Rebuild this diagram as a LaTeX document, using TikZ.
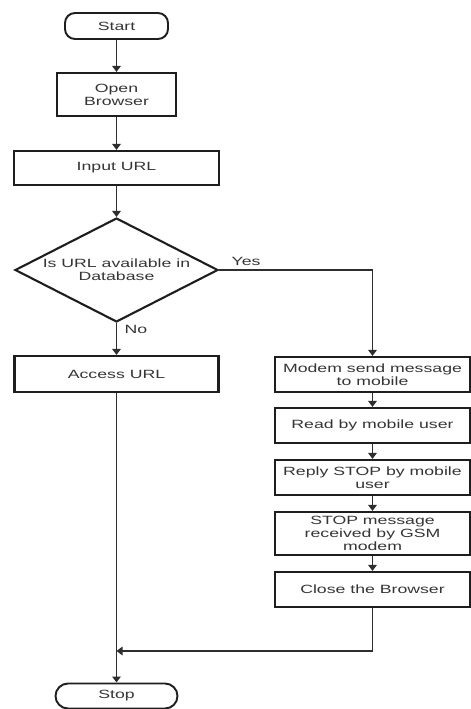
\documentclass[tikz,border=0pt]{standalone}
\usepackage{fontspec}
\setmainfont{Liberation Sans}[FakeStretch=1.48]
\usepackage{tikz}
\usetikzlibrary{positioning, shapes.geometric, arrows.meta}
\definecolor{cline}{HTML}{2E2E2E}
\definecolor{cbox}{HTML}{1E1E1E}
\definecolor{ctext}{HTML}{353535}

\begin{document}
\begin{tikzpicture}[
  font=\fontsize{6.8}{7.3}\selectfont,
  flowbox/.style={
    draw=cbox, fill=white, line width=1.2pt, text=ctext,
    align=center, inner sep=0pt,
    minimum width=#1
  },
  terminal/.style={
    draw=cbox, fill=white, line width=1.1pt, text=ctext,
    rounded corners=0.2cm, inner sep=0pt,
    minimum width=#1
  },
  decision/.style={
    diamond, aspect=2, draw=cbox, line width=1.2pt, text=ctext,
    align=center, inner sep=0pt,
    minimum width=4.06cm, minimum height=2.08cm
  },
  flow/.style={
    draw=cline, line width=1pt,
    -{Triangle[length=0.12cm, width=0.17cm]}
  },
  tag/.style={text=ctext, inner sep=1pt}
]

\useasboundingbox (0, 0) rectangle (9.42, -14.18);

% ============================================================
% LEFT column: start, browser, URL check
% ============================================================
\node[terminal=2.06cm, minimum height=0.52cm] (start)
  at (2.33, -0.52) {Start};

\node[flowbox=2.38cm, minimum height=0.86cm] (open)
  at (2.33, -1.89) {Open\\Browser};

\node[flowbox=4.1cm, minimum height=0.68cm] (input)
  at (2.33, -3.36) {Input URL};

\node[decision] (db)
  at (2.33, -5.40) {Is URL available in\\Database};

\node[flowbox=4.08cm, minimum height=0.72cm] (access)
  at (2.33, -7.48) {Access URL};

\node[terminal=2.44cm, minimum height=0.5cm, rounded corners=0.25cm] (stop)
  at (2.33, -13.92) {Stop};

% ============================================================
% RIGHT column: SMS handshake with the GSM modem
% ============================================================
\node[flowbox=3.9cm, minimum height=0.70cm] (modem)
  at (7.45, -7.49) {Modem send message\\to mobile};

\node[flowbox=3.9cm, minimum height=0.70cm] (read)
  at (7.45, -8.51) {Read by mobile user};

\node[flowbox=3.9cm, minimum height=0.70cm] (reply)
  at (7.45, -9.55) {Reply STOP by mobile\\user};

\node[flowbox=3.9cm, minimum height=0.86cm] (stopmsg)
  at (7.45, -10.67) {STOP message\\received by GSM\\modem};

\node[flowbox=3.9cm, minimum height=0.70cm] (close)
  at (7.45, -11.79) {Close the Browser};

% merge point on the left line
\coordinate (merge) at (2.33, -13.02);

% ============================================================
% Connectors
% ============================================================
\draw[flow] (start) -- (open);
\draw[flow] (open) -- (input);
\draw[flow] (input) -- (db);

\draw[flow] (db.east) -| (modem);
\node[tag, anchor=center] (yes) at (4.92, -5.22) {Yes};

\draw[flow] (db.south) -- (access);
\node[tag, anchor=center] (no) at (2.72, -6.58) {No};

\foreach \a/\b in {modem/read, read/reply, reply/stopmsg, stopmsg/close} {
  \draw[flow] (\a) -- (\b);
}

\draw[flow] (access) -- (stop);
\draw[flow] (close.south) |- (merge);

\end{tikzpicture}
\end{document}
